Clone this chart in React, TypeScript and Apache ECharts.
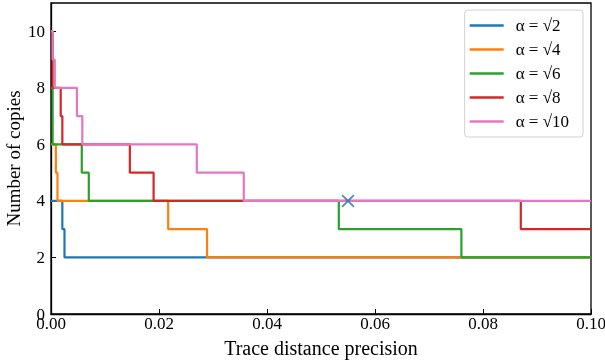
import React, { useEffect, useRef } from "react";
import * as echarts from "echarts";

const seriesNames = ["α = √2", "α = √4", "α = √6", "α = √8", "α = √10"];
const colors = ["#1f77b4", "#ff7f0e", "#2ca02c", "#d62728", "#e377c2"];

const alpha2: [number, number][] = [[0, 4], [0.0021, 3], [0.0025, 2], [0.1, 2]];
const alpha4: [number, number][] = [[0, 6], [0.0009, 5], [0.0012, 4], [0.0217, 3], [0.0289, 2], [0.1, 2]];
const alpha6: [number, number][] = [[0, 8], [0.0003, 6], [0.0057, 5], [0.007, 4], [0.0533, 3], [0.076, 2], [0.1, 2]];
const alpha8: [number, number][] = [[0, 10], [0.0003, 8], [0.0018, 7], [0.0021, 6], [0.0146, 5], [0.019, 4], [0.087, 3], [0.1, 3]];
const alpha10: [number, number][] = [[0, 10], [0.0003, 9], [0.0007, 8], [0.0048, 7], [0.0058, 6], [0.027, 5], [0.0357, 4], [0.1, 4]];
const markerPoint: [number, number][] = [[0.055, 4]];

const allSeries = [alpha2, alpha4, alpha6, alpha8, alpha10];

const FONT = "Liberation Serif";

export default function App() {
  const ref = useRef<HTMLDivElement>(null);
  useEffect(() => {
    if (!ref.current) return;
    const chart = echarts.init(ref.current, null, { renderer: "svg" });
    chart.setOption({
      animation: false,
      grid: {
        left: 51,
        right: 14,
        top: 3,
        bottom: 50,
        outerBoundsMode: "none",
        containLabel: false,
        show: true,
        borderColor: "#000",
        borderWidth: 1.3,
      },
      legend: {
        data: seriesNames.map((n) => ({ name: n, icon: "rect" })),
        orient: "vertical",
        right: 22,
        top: 10,
        itemWidth: 34,
        itemHeight: 2.5,
        itemGap: 7,
        padding: [7, 14, 7, 5],
        borderColor: "#d0d0d0",
        borderWidth: 1,
        borderRadius: 3,
        backgroundColor: "#fff",
        textStyle: { fontFamily: FONT, fontSize: 17, color: "#000", padding: [0, 0, 0, 7] },
      },
      xAxis: {
        type: "value",
        min: 0,
        max: 0.1,
        interval: 0.02,
        name: "Trace distance precision",
        nameLocation: "middle",
        nameGap: 24,
        nameMoveOverlap: false,
        nameTextStyle: { fontFamily: FONT, fontSize: 20, color: "#000" },
        axisLine: { lineStyle: { color: "#000", width: 1.3 } },
        axisTick: { inside: true, length: 5, lineStyle: { color: "#000" } },
        axisLabel: {
          fontFamily: FONT,
          fontSize: 17,
          color: "#000",
          margin: 1,
          formatter: (v: number) => v.toFixed(2),
        },
        splitLine: { show: false },
      },
      yAxis: {
        type: "value",
        min: 0,
        max: 11,
        interval: 2,
        name: "Number of copies",
        nameLocation: "middle",
        nameGap: 28,
        nameMoveOverlap: false,
        nameTextStyle: { fontFamily: FONT, fontSize: 19, color: "#000" },
        axisLine: { lineStyle: { color: "#000", width: 1.3 } },
        axisTick: { inside: true, length: 5, lineStyle: { color: "#000" } },
        axisLabel: { fontFamily: FONT, fontSize: 17, color: "#000", margin: 6, showMaxLabel: false },
        splitLine: { show: false },
      },
      series: [
        ...allSeries.map((d, i) => ({
          name: seriesNames[i],
          type: "line",
          step: "end",
          data: d,
          showSymbol: false,
          symbol: "none",
          lineStyle: { color: colors[i], width: 2.2 },
          itemStyle: { color: colors[i] },
          z: 2 + i,
        })),
        {
          name: "marker",
          type: "scatter",
          data: markerPoint,
          symbol:
            "path://M0,2L2,0L10,8L18,0L20,2L12,10L20,18L18,20L10,12L2,20L0,18L8,10Z",
          symbolSize: 13,
          itemStyle: { color: colors[0] },
          z: 10,
        },
      ],
    });
    return () => chart.dispose();
  }, []);
  return (
    <div
      ref={ref}
      style={{ position: "fixed", left: 0, top: 0, width: 605, height: 364 }}
    />
  );
}
